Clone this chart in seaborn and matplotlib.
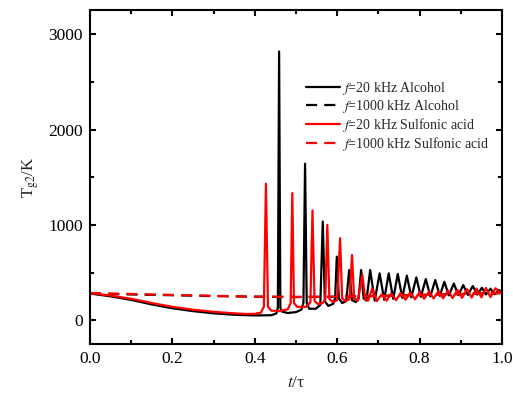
import numpy as np
import pandas as pd
import matplotlib
matplotlib.use("Agg")
import matplotlib.pyplot as plt
import seaborn as sns
from matplotlib.ticker import MultipleLocator

# ---- data ----
alc20_t = [0.000, 0.050, 0.100, 0.150, 0.200, 0.250, 0.300, 0.350, 0.400, 0.440, 0.452, 0.456,
           0.459, 0.462, 0.466, 0.480, 0.500, 0.513, 0.518,
           0.522, 0.526, 0.532, 0.548, 0.559,
           0.565, 0.570, 0.578, 0.590, 0.595,
           0.599, 0.604, 0.612, 0.622,
           0.629, 0.636, 0.645, 0.652,
           0.658, 0.664, 0.671,
           0.680, 0.691, 0.703, 0.714, 0.725, 0.736, 0.747, 0.758, 0.769, 0.780,
           0.792, 0.803, 0.815, 0.826, 0.838, 0.849, 0.860, 0.871, 0.883, 0.894,
           0.906, 0.917, 0.929, 0.940, 0.951, 0.961, 0.972, 0.982, 0.993, 1.000]
alc20_T = [280, 250, 213, 165, 125, 95, 72, 57, 50, 52, 70, 130,
           2820, 130, 90, 75, 85, 110, 180,
           1642, 180, 120, 120, 160,
           1035, 200, 150, 170, 230,
           667, 230, 180, 200,
           526, 210, 190, 230,
           526, 230, 205,
           526, 205, 491, 215, 491, 225, 485, 235, 467, 240,
           449, 245, 432, 250, 421, 255, 403, 260, 385, 262,
           368, 265, 358, 268, 340, 270, 330, 272, 316, 290]

alc1000_t = [0.0, 0.1, 0.2, 0.3, 0.4, 0.5, 0.6, 0.7, 0.8, 0.9, 1.0]
alc1000_T = [280, 270, 262, 253, 246, 243, 246, 255, 265, 275, 285]

sul20_t = [0.000, 0.050, 0.100, 0.150, 0.200, 0.250, 0.300, 0.350, 0.380, 0.400, 0.415, 0.422,
           0.427, 0.432, 0.440, 0.460, 0.480, 0.487,
           0.491, 0.495, 0.503, 0.525, 0.535,
           0.540, 0.545, 0.553, 0.565, 0.571,
           0.576, 0.581, 0.590, 0.600,
           0.607, 0.612, 0.620, 0.630,
           0.636, 0.641, 0.650,
           0.661, 0.668, 0.675,
           0.685, 0.696, 0.708, 0.720, 0.731, 0.743, 0.754, 0.766, 0.777, 0.789,
           0.800, 0.811, 0.823, 0.834, 0.846, 0.857, 0.869, 0.880, 0.892, 0.903,
           0.915, 0.926, 0.938, 0.950, 0.961, 0.972, 0.984, 1.000]
sul20_T = [285, 258, 225, 180, 140, 110, 88, 72, 65, 66, 80, 140,
           1432, 140, 100, 95, 115, 180,
           1334, 180, 140, 140, 190,
           1151, 200, 170, 180, 220,
           1000, 220, 190, 210,
           860, 230, 200, 220,
           684, 230, 205,
           474, 220, 205,
           333, 200, 270, 205, 280, 210, 285, 215, 290, 220,
           295, 225, 300, 228, 305, 230, 310, 232, 318, 235,
           325, 237, 332, 240, 338, 242, 335, 280]

sul1000_t = [0.0, 0.1, 0.2, 0.3, 0.4, 0.5, 0.6, 0.7, 0.8, 0.9, 1.0]
sul1000_T = [285, 275, 265, 255, 248, 244, 246, 254, 264, 274, 284]

labels = ["$f$=20 kHz Alcohol", "$f$=1000 kHz Alcohol",
          "$f$=20 kHz Sulfonic acid", "$f$=1000 kHz Sulfonic acid"]

# ---- style ----
sns.set_theme(style="ticks")
plt.rcParams["font.family"] = ["Liberation Serif", "DejaVu Serif"]
plt.rcParams["mathtext.fontset"] = "stix"
plt.rcParams["axes.linewidth"] = 1.5

fig = plt.figure(figsize=(5.13, 3.94), dpi=100)
ax = fig.add_axes([0.1754, 0.1269, 0.8032, 0.8465])

series = [
    (alc20_t, alc20_T, labels[0], "black", "-"),
    (alc1000_t, alc1000_T, labels[1], "black", "--"),
    (sul20_t, sul20_T, labels[2], "red", "-"),
    (sul1000_t, sul1000_T, labels[3], "red", "--"),
]
for t, T, lab, col, ls in series:
    df = pd.DataFrame({"t": t, "T": T})
    sns.lineplot(data=df, x="t", y="T", ax=ax, color=col, linestyle=ls,
                 linewidth=1.6, label=lab, sort=False, estimator=None)

for line in ax.get_lines():
    if line.get_linestyle() == "--":
        line.set_dashes((5, 3.2))

ax.set_xlim(0, 1.0)
ax.set_ylim(-250, 3250)
ax.xaxis.set_major_locator(MultipleLocator(0.2))
ax.xaxis.set_minor_locator(MultipleLocator(0.1))
ax.yaxis.set_major_locator(MultipleLocator(1000))
ax.yaxis.set_minor_locator(MultipleLocator(500))
ax.xaxis.set_major_formatter(matplotlib.ticker.FormatStrFormatter("%.1f"))
ax.tick_params(which="both", direction="in", top=True, right=True,
               labelsize=12.5, width=1.5, colors="black")
ax.tick_params(which="major", length=4.5, pad=5)
ax.tick_params(which="minor", length=3)
for s in ax.spines.values():
    s.set_visible(True)
    s.set_linewidth(1.5)
    s.set_color("black")

ax.set_xlabel("$t$/τ", fontsize=12.5, labelpad=6)
ax.set_ylabel(r"T$_{\mathrm{g2}}$/K", fontsize=12, labelpad=5)

leg = ax.legend(loc="upper left", bbox_to_anchor=(0.525, 0.792), frameon=False,
                fontsize=10, handlelength=2.4, handletextpad=0.15,
                labelspacing=0.08, borderpad=0, borderaxespad=0)
for h in leg.get_lines():
    h.set_linewidth(1.6)

fig.savefig("out.png", dpi=100)
